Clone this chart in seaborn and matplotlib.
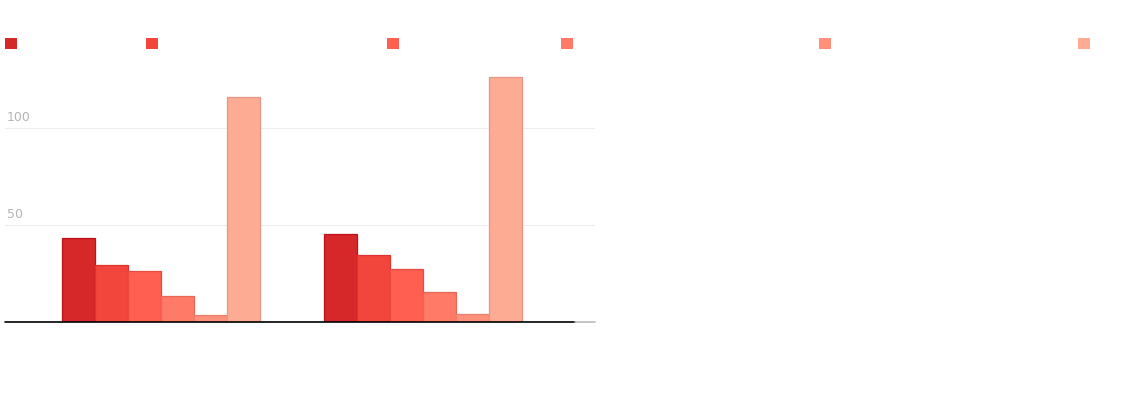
import numpy as np
import pandas as pd
import seaborn as sns
import matplotlib.pyplot as plt
from matplotlib.patches import Patch
from matplotlib.transforms import ScaledTranslation

groups = ['A', 'B']
series = ['s1', 's2', 's3', 's4', 's5', 's6']
values_a = [43.2, 29.3, 26.3, 13.3, 3.4, 116.0]
values_b = [45.4, 34.6, 27.4, 15.5, 4.0, 126.3]
colors = ['#d62829', '#f2463c', '#ff5f50', '#ff7a67', '#ff917b', '#fdab93']
edges = ['#c00f1c', '#dc3430', '#e84c40', '#e66856', '#e8806c', '#e69584']
yticks = [50, 100]

df = pd.DataFrame({
    'group': np.repeat(groups, len(series)),
    'series': series * len(groups),
    'value': values_a + values_b,
})

sns.set_style('white')
fig = plt.figure(figsize=(11.3, 4.0), dpi=100)
# 100 units ~ 193.7 px, baseline at y=322 px
ax = fig.add_axes([5 / 1130, 1 - 322 / 400, 590 / 1130, 130 * 1.937 / 400])

sns.barplot(data=df, x='group', y='value', hue='series', palette=colors,
            width=0.755, gap=0, legend=False, ax=ax, saturation=1)
for cont, ec in zip(ax.containers, edges):
    for bar in cont:
        bar.set_edgecolor(ec)
        bar.set_linewidth(0.9)

ax.set_xlim(-0.595, 1.656)
ax.set_ylim(0, 130)
ax.set_xticks([])
ax.set_xlabel('')
ax.set_ylabel('')
for s in ax.spines.values():
    s.set_visible(False)

ax.set_yticks(yticks)
ax.grid(axis='y', color='#eeeeee', linewidth=0.8)
ax.set_axisbelow(True)
ax.tick_params(axis='y', length=0, pad=-1.5, labelsize=9, labelcolor='#b4b4b4')
for lab in ax.get_yticklabels():
    lab.set_ha('left')
    lab.set_va('bottom')
    lab.set_transform(lab.get_transform() + ScaledTranslation(0, 3 / 72, fig.dpi_scale_trans))

cut = (575 - 5) / 590
ax.axhline(0, xmin=0, xmax=cut, color='black', linewidth=1.2, clip_on=False)
ax.axhline(0, xmin=cut, xmax=1, color='#bbbbbb', linewidth=1.2, clip_on=False)

leg_x = [5, 146, 387, 561, 819, 1078]
for x, c in zip(leg_x, colors):
    fig.legend(handles=[Patch(facecolor=c, edgecolor='none')], labels=[''],
               loc='center left', bbox_to_anchor=(x / 1130, 1 - 44 / 400),
               frameon=False, borderaxespad=0, borderpad=0, handletextpad=0,
               handlelength=0.864, handleheight=0.864)

fig.savefig('out.png', dpi=100)
